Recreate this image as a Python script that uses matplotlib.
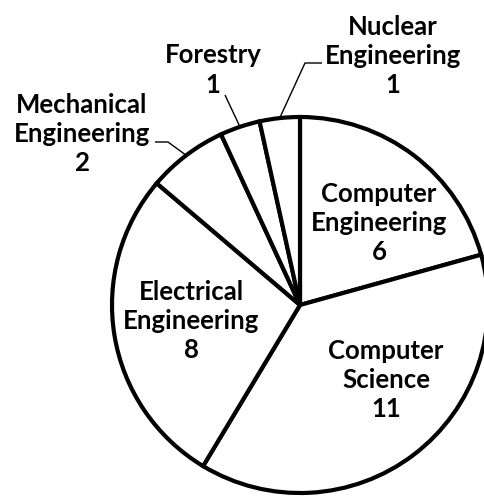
import numpy as np
import matplotlib.pyplot as plt

# data
majors = ["Computer\nEngineering", "Computer\nScience", "Electrical\nEngineering",
          "Mechanical\nEngineering", "Forestry", "Nuclear\nEngineering"]
counts = [6, 11, 8, 2, 1, 1]

# layout (pixels in the 485x496 picture)
W, H = 485, 496
CX, CY, R = 300, 305, 188
label_xy = [(379, 223), (386, 380), (191, 321), (82, 134), (213, 70), (393, 56)]
# leader line knees for the outside labels (None = label inside)
leader_knees = [None, None, None, [(155, 142), (168, 142)], [(225, 95)], [(322, 63), (305, 63)]]


def to_data(x, y):
    return (x - CX) / R, (CY - y) / R


fig = plt.figure(figsize=(W / 100, H / 100), dpi=100)
ax = fig.add_axes([0, 0, 1, 1])
wedges, _ = ax.pie(counts, startangle=90, counterclock=False,
                   colors=["white"] * len(counts),
                   wedgeprops=dict(edgecolor="black", linewidth=3.0))
ax.set_xlim(-CX / R, (W - CX) / R)
ax.set_ylim(-(H - CY) / R, CY / R)
ax.axis("off")

for w, name, n, pos, knees in zip(wedges, majors, counts, label_xy, leader_knees):
    tx, ty = to_data(*pos)
    ax.text(tx, ty, f"{name}\n{n}", ha="center", va="center", fontsize=18.5,
            fontweight="bold", family="Lato", linespacing=1.27, color="black")
    if knees:
        mid = np.deg2rad((w.theta1 + w.theta2) / 2)
        pts = [to_data(*k) for k in knees] + [(np.cos(mid), np.sin(mid))]
        xs, ys = zip(*pts)
        ax.plot(xs, ys, color="black", lw=1.0, solid_capstyle="butt")

fig.savefig("out.png", dpi=100)
